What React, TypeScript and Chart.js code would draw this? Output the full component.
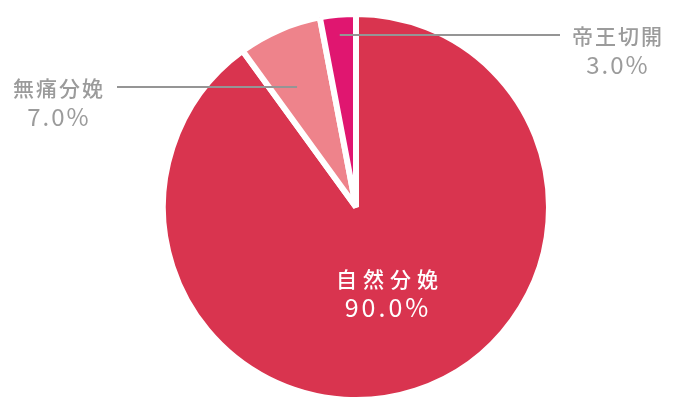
import { useRef, useEffect } from "react"
import { Chart, registerables, type ChartConfiguration, type Plugin } from "chart.js"

Chart.register(...registerables)

const labels = ["自然分娩", "無痛分娩", "帝王切開"]
const values = [90.0, 7.0, 3.0]
const colors = ["#d9344f", "#ee838b", "#e01670"]

const FONT = '"Noto Sans CJK JP", "Noto Sans", sans-serif'

// draws the slice labels: white inside the big slice, grey with a leader line for the small ones
const labelPlugin: Plugin<"pie"> = {
  id: "sliceLabels",
  afterDraw(chart) {
    const ctx = chart.ctx
    const meta = chart.getDatasetMeta(0)
    const pct = (v: number) => v.toFixed(1) + "%"

    meta.data.forEach((el, i) => {
      const { x, y, startAngle, endAngle, outerRadius } = el.getProps(
        ["x", "y", "startAngle", "endAngle", "outerRadius"],
        true
      ) as any
      const mid = (startAngle + endAngle) / 2
      ctx.save()
      ctx.textAlign = "center"
      ctx.textBaseline = "middle"

      if (i === 0) {
        const r = outerRadius * 0.47
        const cx = x + Math.cos(mid) * r + 3
        const cy = y + Math.sin(mid) * r
        ctx.fillStyle = "#ffffff"
        ;(ctx as any).letterSpacing = "6px"
        ctx.font = `500 21px ${FONT}`
        ctx.fillText(labels[i], cx + 3, cy - 14)
        ;(ctx as any).letterSpacing = "3px"
        ctx.font = `400 25px ${FONT}`
        ctx.fillText(pct(values[i]), cx + 1, cy + 14)
      } else {
        // label block position and leader line height
        const lineY = i === 1 ? 87 : 35
        const tx = i === 1 ? 58 : 617
        const dy = (lineY - y) / Math.sin(mid)
        const ax = x + Math.cos(mid) * dy - (i === 1 ? 7 : 0)
        ctx.strokeStyle = "#959595"
        ctx.lineWidth = 2
        ctx.beginPath()
        ctx.moveTo(i === 1 ? 117 : 560, lineY)
        ctx.lineTo(ax, lineY)
        ctx.stroke()

        ctx.fillStyle = "#9b9b9b"
        ;(ctx as any).letterSpacing = "2px"
        ctx.font = `500 21px ${FONT}`
        ctx.fillText(labels[i], tx + 1, lineY + 1)
        ctx.font = `400 24px ${FONT}`
        ctx.fillText(pct(values[i]), tx + 1, lineY + 30)
      }
      ctx.restore()
    })
  },
}

export default function App() {
  const chartRef = useRef<HTMLCanvasElement>(null)
  const chartInstance = useRef<Chart | null>(null)

  useEffect(() => {
    document.body.style.margin = "0"
    if (!chartRef.current) return
    const ctx = chartRef.current.getContext("2d")
    if (!ctx) return

    const config: ChartConfiguration<"pie"> = {
      type: "pie",
      data: {
        labels,
        datasets: [
          {
            data: values,
            backgroundColor: colors,
            borderColor: "#ffffff",
            borderWidth: 6,
          },
        ],
      },
      options: {
        responsive: false,
        animation: false,
        radius: 193,
        layout: { padding: { left: 22, right: 0, top: 0, bottom: 0 } },
        plugins: {
          legend: { display: false },
          tooltip: { enabled: false },
        },
      },
      plugins: [labelPlugin],
    }

    chartInstance.current = new Chart(ctx, config)

    return () => {
      if (chartInstance.current) {
        chartInstance.current.destroy()
        chartInstance.current = null
      }
    }
  }, [])

  return (
    <div style={{ width: 690, height: 414, background: "#ffffff" }}>
      <canvas ref={chartRef} width={690} height={414}></canvas>
    </div>
  )
}
